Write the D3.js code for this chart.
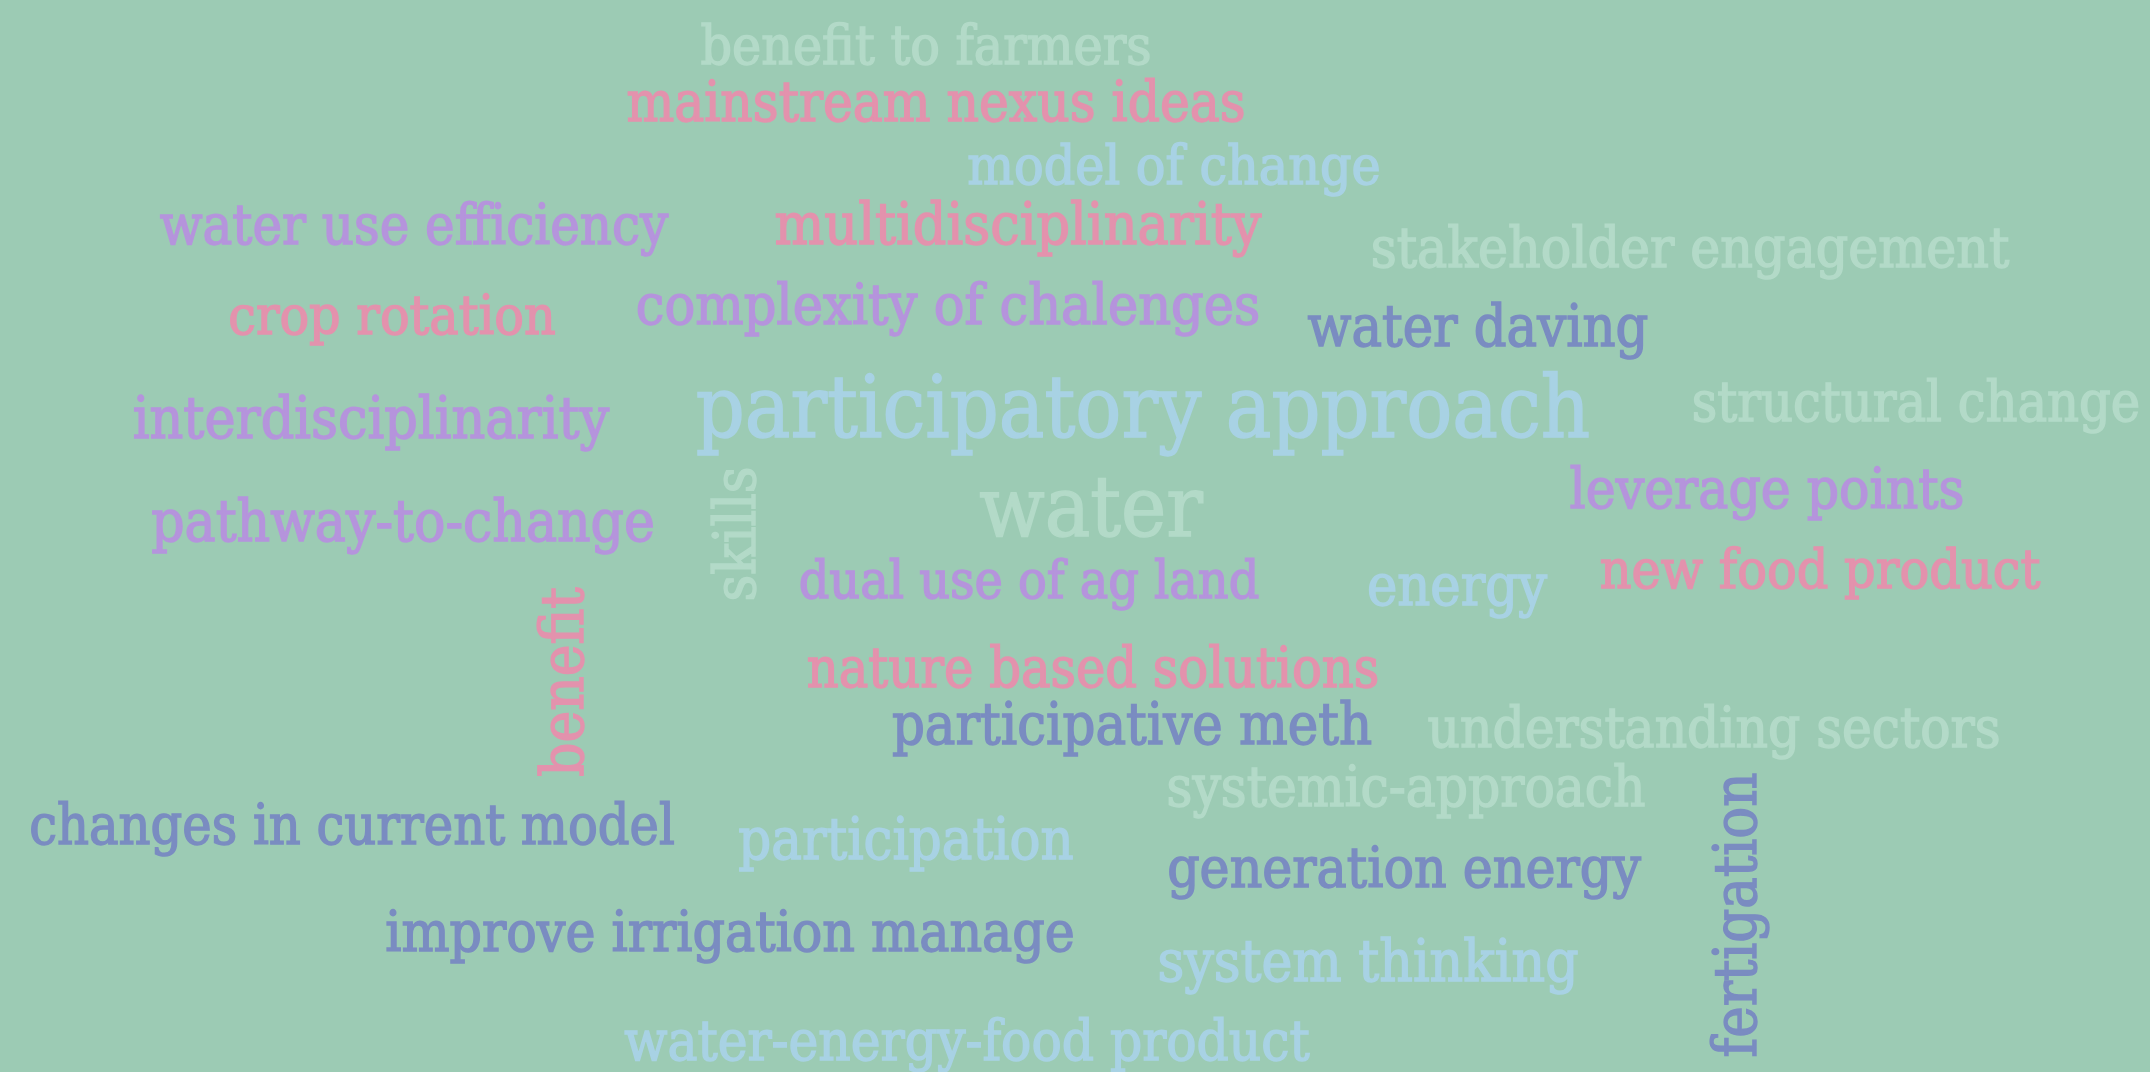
<!DOCTYPE html>
<html>
<head>
<meta charset="utf-8">
<script src="https://cdn.jsdelivr.net/npm/d3@7"></script>
<style>
  body { margin: 0; background: #9ccbb4; }
  svg { display: block; }
  text { font-family: "DejaVu Serif Condensed", "DejaVu Serif", serif; font-stretch: condensed; }
</style>
</head>
<body>
<div id="cloud"></div>
<script>
// words of the cloud, their weight and colour group
const words = [
  "benefit to farmers", "mainstream nexus ideas", "model of change", "water use efficiency",
  "multidisciplinarity", "stakeholder engagement", "crop rotation", "complexity of chalenges",
  "water daving", "interdisciplinarity", "participatory approach", "structural change",
  "leverage points", "pathway-to-change", "skills", "water",
  "dual use of ag land", "energy", "new food product", "benefit",
  "nature based solutions", "participative meth", "understanding sectors", "systemic-approach",
  "changes in current model", "participation", "generation energy", "fertigation",
  "improve irrigation manage", "system thinking", "water-energy-food product"
];
const weights = [
  4.7, 5, 4.7, 4.9,
  5.6, 5.1, 4.7, 5.2,
  5.25, 5.6, 12.3, 4.8,
  5.05, 5.5, 5.5, 12.25,
  4.3, 5.25, 4.75, 5.9,
  4.8, 5.3, 5, 5,
  4.8, 5.3, 5.1, 5.75,
  5.1, 5.5, 5
];
const groups = [
  "light", "pink", "sky", "violet",
  "pink", "light", "pink", "violet",
  "slate", "violet", "sky", "light",
  "violet", "violet", "light", "light",
  "violet", "sky", "pink", "pink",
  "pink", "slate", "light", "light",
  "slate", "sky", "slate", "slate",
  "slate", "sky", "sky"
];

// where the layout put each word (reference frame 2150 x 1072) and its rotation
const placeX = [926, 936, 1174, 414, 1018, 1690, 392, 948, 1478, 371, 1143, 1916, 1767, 403, 735, 1091,
  1029, 1457, 1820, 562, 1093, 1132, 1714, 1406, 352, 906, 1404, 1735, 730, 1368, 967];
const placeY = [45, 101, 165, 224, 224, 247, 315, 304, 326, 418, 407, 402, 488, 521, 534, 506,
  580, 585, 569, 682, 668, 724, 727, 786, 825, 839, 867, 915, 931, 961, 1040];
const rotation = [0, 0, 0, 0, 0, 0, 0, 0, 0, 0, 0, 0, 0, 0, -90, 0,
  0, 0, 0, -90, 0, 0, 0, 0, 0, 0, 0, -90, 0, 0, 0];

const width = 2150, height = 1072;

const x = d3.scaleLinear().domain([0, 2150]).range([0, width]);
const y = d3.scaleLinear().domain([0, 1072]).range([0, height]);
const size = d3.scaleLinear().domain([4, 13]).range([52, 88]);
const color = d3.scaleOrdinal()
  .domain(["light", "sky", "pink", "violet", "slate"])
  .range(["#b3dac8", "#a8d2e4", "#e392ad", "#b594dc", "#7a8cc1"]);

const svg = d3.select("#cloud")
  .append("svg")
    .attr("width", width)
    .attr("height", height);

svg.append("rect")
  .attr("width", width)
  .attr("height", height)
  .attr("fill", "#9ccbb4");

// thin stroke in the same colour makes the glyphs a bit heavier, like the source font
svg.append("g")
  .selectAll("text")
  .data(d3.range(words.length))
  .join("text")
    .attr("transform", i => `translate(${x(placeX[i])},${y(placeY[i])}) rotate(${rotation[i]})`)
    .attr("text-anchor", "middle")
    .attr("dominant-baseline", "central")
    .attr("font-size", i => size(weights[i]))
    .attr("fill", i => color(groups[i]))
    .attr("stroke", i => color(groups[i]))
    .attr("stroke-width", 1.4)
    .text(i => words[i]);
</script>
</body>
</html>
